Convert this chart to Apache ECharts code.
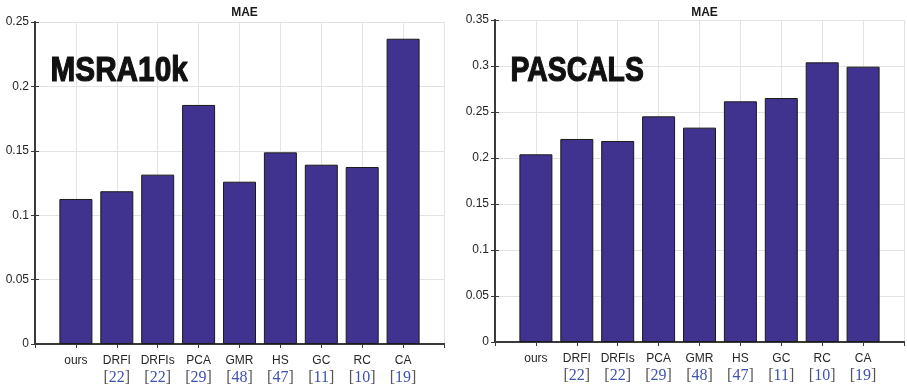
<!DOCTYPE html>
<html><head><meta charset="utf-8">
<script src="https://cdn.jsdelivr.net/npm/echarts@6/dist/echarts.min.js"></script>
<style>html,body{margin:0;padding:0;background:#fff}#c{width:907px;height:386px}</style>
</head><body><div id="c"></div>
<script>
const categories = ['ours','DRFI','DRFIs','PCA','GMR','HS','GC','RC','CA'];
const refs = ['', '22', '22', '29', '48', '47', '11', '10', '19'];
const msraValues = [0.1126, 0.1186, 0.1315, 0.1856, 0.1260, 0.1488, 0.1392, 0.1374, 0.2370];
const pascalValues = [0.2040, 0.2207, 0.2185, 0.2453, 0.2330, 0.2616, 0.2652, 0.3040, 0.2993];
const panelTitles = ['MAE', 'MAE'];
const datasetNames = ['MSRA10k', 'PASCALS'];
const yMax = [0.25, 0.35];

const chart = echarts.init(document.getElementById('c'));
const grids = [
  {left: 35, top: 22, width: 409, height: 322},
  {left: 495, top: 20, width: 409, height: 322}
];
const barColor = '#40338F';
const frame = '#3a3a3a';
const labelColor = '#262626';

function xLabel(v) {
  const i = Math.round(v) - 1;
  if (i < 0 || i >= categories.length) return '';
  const name = '{c|' + categories[i] + '}';
  if (!refs[i]) return name + '\n{e| }';
  return name + '\n{k|[}{n|' + refs[i] + '}{k|]}';
}

const xAxis = [], yAxis = [], series = [];
[msraValues, pascalValues].forEach((vals, g) => {
  xAxis.push({
    type: 'value', gridIndex: g, min: 0, max: 10, interval: 1,
    axisLine: {show: true, lineStyle: {color: frame, width: 2}},
    axisTick: {show: false},
    splitLine: {show: true, lineStyle: {color: '#e3e3e3', width: 1}},
    axisLabel: {
      formatter: xLabel, margin: 9, color: labelColor,
      rich: {
        c: {fontFamily: 'Liberation Sans, Arial', fontSize: 12, color: labelColor, lineHeight: 16},
        e: {fontSize: 15, lineHeight: 18},
        k: {fontFamily: 'Liberation Serif, serif', fontSize: 16, color: '#555', lineHeight: 18},
        n: {fontFamily: 'Liberation Serif, serif', fontSize: 16, color: '#3f52b0', lineHeight: 18}
      }
    }
  });
  xAxis.push({
    type: 'value', gridIndex: g, min: 0, max: 10, interval: 1, position: 'top',
    axisLine: {show: true, lineStyle: {color: frame, width: 2}},
    axisTick: {show: true, inside: true, length: 4, lineStyle: {color: frame}},
    axisLabel: {show: false}, splitLine: {show: false}
  });
  yAxis.push({
    type: 'value', gridIndex: g, min: 0, max: yMax[g], interval: 0.05,
    axisLine: {show: true, lineStyle: {color: frame, width: 2}},
    axisTick: {show: true, inside: true, length: 4, lineStyle: {color: frame}},
    splitLine: {show: true, lineStyle: {color: '#e3e3e3', width: 1}},
    axisLabel: {fontFamily: 'Liberation Sans, Arial', fontSize: 12, color: labelColor, margin: 6}
  });
  yAxis.push({
    type: 'value', gridIndex: g, min: 0, max: yMax[g], interval: 0.05, position: 'right',
    axisLine: {show: true, lineStyle: {color: frame, width: 2}},
    axisTick: {show: true, inside: true, length: 4, lineStyle: {color: frame}},
    axisLabel: {show: false}, splitLine: {show: false}
  });
  series.push({
    type: 'bar', xAxisIndex: g * 2, yAxisIndex: g * 2, barWidth: 33,
    data: vals.map((v, i) => [i + 1, v]),
    itemStyle: {color: barColor, borderColor: '#1a1a1a', borderWidth: 1},
    silent: true, z: 3
  });
});

const graphic = [
  {type: 'text', left: 50, top: 53, scaleX: 0.85, style: {text: datasetNames[0], font: 'bold 35px "Liberation Sans", Arial', fill: '#111', stroke: '#111', lineWidth: 1.2}, z: 10},
  {type: 'text', left: 510, top: 53, scaleX: 0.81, style: {text: datasetNames[1], font: 'bold 35px "Liberation Sans", Arial', fill: '#111', stroke: '#111', lineWidth: 1.2}, z: 10}
];

chart.setOption({
  animation: false,
  title: [
    {text: panelTitles[0], left: 239.5, top: 2, textAlign: 'center', textStyle: {fontFamily: 'Liberation Sans, Arial', fontSize: 12, fontWeight: 'bold', color: '#1a1a1a'}},
    {text: panelTitles[1], left: 699.5, top: 2, textAlign: 'center', textStyle: {fontFamily: 'Liberation Sans, Arial', fontSize: 12, fontWeight: 'bold', color: '#1a1a1a'}}
  ],
  grid: grids,
  xAxis, yAxis, series, graphic
});
</script></body></html>
